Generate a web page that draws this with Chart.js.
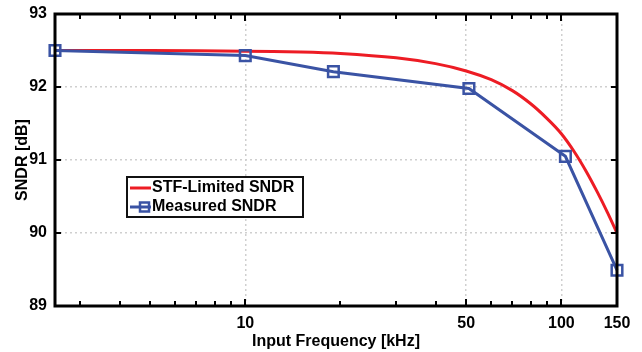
<!DOCTYPE html>
<html>
<head>
<meta charset="utf-8">
<script src="https://cdn.jsdelivr.net/npm/chart.js@4"></script>
<style>
    html, body { margin: 0; padding: 0; background: #fff; }
    #wrap { width: 642px; height: 352px; position: relative; }
</style>
</head>
<body>
<div id="wrap"><canvas id="sndrChart"></canvas></div>
<script>
// STF-limited curve
const stfFreq = [2.5, 5, 10, 15, 20, 30, 40, 50, 60, 70, 80, 90, 100, 110, 120, 130, 140, 150];
const stfSndr = [92.50, 92.50, 92.49, 92.48, 92.46, 92.40, 92.32, 92.22, 92.10, 91.95, 91.77, 91.57, 91.36, 91.11, 90.84, 90.56, 90.28, 90.00];

// Measured points
const measFreq = [2.5, 10, 19, 51, 103, 150];
const measSndr = [92.50, 92.43, 92.21, 91.98, 91.05, 89.49];

// Axis ticks
const xTicks = [3, 4, 5, 6, 7, 8, 9, 10, 20, 30, 40, 50, 60, 70, 80, 90, 100, 150];
const xLabels = [10, 50, 100, 150];
const xGrid = [10, 50, 100];
const yGrid = [90, 91, 92];

const FONT = '"Liberation Sans", Arial, sans-serif';
const RED = '#ed1c24';
const BLUE = '#3a53a4';
const GRID = '#cfcfcf';

// Axes box + inward tick marks
const axesBoxPlugin = {
    id: 'axesBox',
    afterDatasetsDraw(chart) {
        const { ctx, chartArea: a, scales: { x, y } } = chart;
        ctx.save();
        ctx.strokeStyle = '#000';
        ctx.lineWidth = 2;
        ctx.beginPath();
        xTicks.forEach(v => {
            const px = Math.round(x.getPixelForValue(v));
            const len = xGrid.includes(v) ? 7 : 5;
            ctx.moveTo(px, a.bottom); ctx.lineTo(px, a.bottom - len);
            ctx.moveTo(px, a.top); ctx.lineTo(px, a.top + len);
        });
        yGrid.forEach(v => {
            const py = Math.round(y.getPixelForValue(v));
            ctx.moveTo(a.left, py); ctx.lineTo(a.left + 6, py);
            ctx.moveTo(a.right, py); ctx.lineTo(a.right - 6, py);
        });
        ctx.stroke();
        ctx.lineWidth = 3;
        ctx.strokeRect(a.left, a.top, a.right - a.left, a.bottom - a.top);
        ctx.restore();
    }
};

// Legend box inside the plot
const legendPlugin = {
    id: 'boxLegend',
    afterDraw(chart) {
        const { ctx } = chart;
        ctx.save();
        ctx.fillStyle = '#fff';
        ctx.fillRect(127, 177, 176, 40);
        ctx.strokeStyle = '#111';
        ctx.lineWidth = 2;
        ctx.strokeRect(127, 177, 176, 40);

        ctx.lineWidth = 3;
        ctx.strokeStyle = RED;
        ctx.beginPath(); ctx.moveTo(130, 188); ctx.lineTo(151, 188); ctx.stroke();
        ctx.strokeStyle = BLUE;
        ctx.beginPath(); ctx.moveTo(130, 207); ctx.lineTo(151, 207); ctx.stroke();
        ctx.lineWidth = 2.5;
        ctx.strokeRect(140, 202.5, 9, 9);

        ctx.fillStyle = '#000';
        ctx.font = 'bold 16px ' + FONT;
        ctx.textBaseline = 'middle';
        ctx.fillText('STF-Limited SNDR', 152, 188);
        ctx.fillText('Measured SNDR', 152, 207);
        ctx.restore();
    }
};

const tickFont = { family: FONT, size: 16, weight: 'bold' };

new Chart(document.getElementById('sndrChart'), {
    type: 'line',
    data: {
        datasets: [
            {
                label: 'Measured SNDR',
                data: measFreq.map((f, i) => ({ x: f, y: measSndr[i] })),
                borderColor: BLUE,
                borderWidth: 3,
                pointStyle: 'rect',
                pointRadius: 7.5,
                pointBorderWidth: 2.5,
                pointBorderColor: BLUE,
                pointBackgroundColor: 'transparent',
                tension: 0,
                clip: false
            },
            {
                label: 'STF-Limited SNDR',
                data: stfFreq.map((f, i) => ({ x: f, y: stfSndr[i] })),
                borderColor: RED,
                borderWidth: 3,
                pointRadius: 0,
                tension: 0.3,
                clip: false
            }
        ]
    },
    options: {
        responsive: true,
        maintainAspectRatio: false,
        animation: false,
        layout: { padding: { top: 14, right: 25, left: 0, bottom: 0 } },
        plugins: { legend: { display: false }, tooltip: { enabled: false } },
        scales: {
            x: {
                type: 'logarithmic',
                min: 2.5,
                max: 150,
                afterBuildTicks: s => { s.ticks = xTicks.map(v => ({ value: v })); },
                afterFit: s => {
                    s.height = 46;
                    s.paddingLeft = 0;
                    s.paddingRight = 0;
                },
                ticks: {
                    autoSkip: false,
                    maxRotation: 0,
                    padding: 8,
                    color: '#000',
                    font: tickFont,
                    callback: v => xLabels.includes(v) ? String(v) : ''
                },
                grid: {
                    drawTicks: false,
                    lineWidth: 1.5,
                    color: c => xGrid.includes(c.tick && c.tick.value) ? GRID : 'transparent'
                },
                border: { display: false, dash: [2, 3] },
                title: {
                    display: true,
                    text: 'Input Frequency [kHz]',
                    color: '#000',
                    font: tickFont,
                    padding: { top: 0, bottom: 1 }
                }
            },
            y: {
                min: 89,
                max: 93,
                afterFit: s => {
                    s.width = 55;
                    s.paddingTop = 0;
                    s.paddingBottom = 0;
                },
                ticks: { stepSize: 1, padding: 8, color: '#000', font: tickFont },
                grid: {
                    drawTicks: false,
                    lineWidth: 1.5,
                    color: c => yGrid.includes(c.tick && c.tick.value) ? GRID : 'transparent'
                },
                border: { display: false, dash: [2, 3] },
                title: {
                    display: true,
                    text: 'SNDR [dB]',
                    color: '#000',
                    font: tickFont,
                    padding: { top: 13, bottom: 0 }
                }
            }
        }
    },
    plugins: [axesBoxPlugin, legendPlugin]
});
</script>
</body>
</html>
